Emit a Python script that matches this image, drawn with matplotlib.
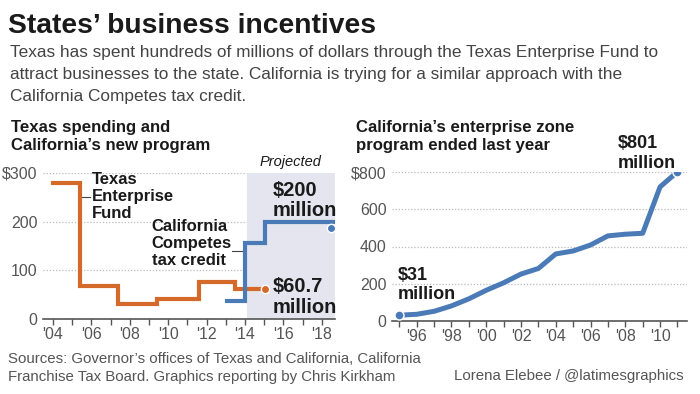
import numpy as np
import matplotlib.pyplot as plt

# Texas Enterprise Fund: step edges (year) and spending ($ millions)
tx_years = [2004, 2005.4, 2007.4, 2009.4, 2011.6, 2013.5, 2014.8]
tx_values = [280, 68, 31, 42, 76, 62, 62]
tx_last = (2015.05, 60.7)

# California Competes tax credit (projected)
cc_years = [2013.05, 2014.0, 2015.05, 2018.69]
cc_values = [38, 157, 200, 200]
cc_last = (2018.5, 188)

projected_start = 2014.1

# California enterprise zone program
ez_years = list(range(1995, 2012))
ez_values = [31, 36, 52, 81, 119, 165, 205, 252, 282, 360, 376, 408, 457, 466, 471, 720, 801]

left_yticks = [0, 100, 200, 300]
left_yticklabels = ['0', '100', '200', '$300']
left_xticks = list(range(2004, 2019, 2))
right_yticks = [0, 200, 400, 600, 800]
right_yticklabels = ['0', '200', '400', '600', '$800']
right_xticks = list(range(1996, 2011, 2))

ORANGE = '#d4692a'
BLUE = '#4b7bb7'
SHADE = '#e4e5ee'
DARK = '#1a1a1a'
GRAY = '#555555'

SANS = ['Liberation Sans', 'DejaVu Sans']
plt.rcParams['font.family'] = SANS

W, H = 700, 394
fig = plt.figure(figsize=(7, 3.94), dpi=100)


def fx(px):
    return px / W


def fy(px):
    return 1 - px / H


def style_axis(ax, xlim, ylim, yticks, yticklabels, xticks, minor):
    for s in ['top', 'right', 'left']:
        ax.spines[s].set_visible(False)
    ax.spines['bottom'].set_color(GRAY)
    ax.spines['bottom'].set_linewidth(1.2)
    ax.set_yticks(yticks)
    ax.set_yticklabels(yticklabels, fontsize=11.5, color=GRAY)
    ax.tick_params(axis='y', length=0, pad=4)
    ax.set_xticks(xticks)
    ax.set_xticklabels(["'%02d" % (x % 100) for x in xticks], fontsize=11.5, color=GRAY)
    ax.set_xticks(minor, minor=True)
    ax.tick_params(axis='x', which='both', length=4, width=1, color=GRAY, pad=2)
    for y in yticks[1:]:
        ax.axhline(y, color='#bbbbbb', lw=0.9, ls=(0, (1, 1.5)), zorder=0)
    ax.set_xlim(*xlim)
    ax.set_ylim(*ylim)


# ---- header ----
fig.text(fx(8), fy(33), 'States\u2019 business incentives', fontsize=20.3, fontweight='bold', color=DARK)
sub = ['Texas has spent hundreds of millions of dollars through the Texas Enterprise Fund to',
       'attract businesses to the state. California is trying for a similar approach with the',
       'California Competes tax credit.']
for i, line in enumerate(sub):
    fig.text(fx(10), fy(57 + 22 * i), line, fontsize=12.4, color='#444444')

fig.text(fx(11), fy(132), 'Texas spending and', fontsize=12.1, fontweight='bold', color=DARK)
fig.text(fx(11), fy(150), 'California\u2019s new program', fontsize=12.1, fontweight='bold', color=DARK)
fig.text(fx(356), fy(132), 'California\u2019s enterprise zone', fontsize=12.1, fontweight='bold', color=DARK)
fig.text(fx(356), fy(150), 'program ended last year', fontsize=12.1, fontweight='bold', color=DARK)

# ---- left chart ----
ax1 = fig.add_axes([fx(43), fy(319), fx(335 - 43), (319 - 173) / H])
style_axis(ax1, (2003.48, 2018.69), (0, 300), left_yticks, left_yticklabels,
           left_xticks, list(range(2004, 2019)))
ax1.axvspan(projected_start, 2018.69, ymin=0, ymax=1, color=SHADE, lw=0, zorder=0.5)
ax1.text((projected_start + 2018.69) / 2, 1.045, 'Projected', transform=ax1.get_xaxis_transform(),
         ha='center', va='baseline', fontsize=10.5, style='italic', color=DARK)

ax1.step(tx_years, tx_values, where='post', color=ORANGE, lw=3, solid_joinstyle='miter', zorder=3)
ax1.plot(*tx_last, 'o', color=ORANGE, ms=6, mec='white', mew=1, zorder=4)
ax1.step(cc_years, cc_values, where='post', color=BLUE, lw=3, solid_joinstyle='miter', zorder=3.5)
ax1.plot(*cc_last, 'o', color=BLUE, ms=6, mec='white', mew=1, zorder=4)

ax1.plot([2005.4, 2005.95], [250, 250], color='#444444', lw=0.8, zorder=2)
ax1.text(2006.0, 302, 'Texas\nEnterprise\nFund', ha='left', va='top', fontsize=12,
         fontweight='bold', color=DARK, linespacing=1.16)
ax1.plot([2013.3, 2014.0], [140, 140], color='#444444', lw=0.8, zorder=2)
ax1.text(2009.14, 205, 'California\nCompetes\ntax credit', ha='left', va='top', fontsize=12,
         fontweight='bold', color=DARK, linespacing=1.16)
ax1.text(2015.46, 284, '$200\nmillion', ha='left', va='top', fontsize=14.5,
         fontweight='bold', color=DARK, linespacing=1.1)
ax1.text(2015.46, 86, '$60.7\nmillion', ha='left', va='top', fontsize=14.5,
         fontweight='bold', color=DARK, linespacing=1.1)

# ---- right chart ----
ax2 = fig.add_axes([fx(392), fy(321), fx(687 - 392), (321 - 172) / H])
style_axis(ax2, (1994.58, 2011.55), (0, 800), right_yticks, right_yticklabels,
           right_xticks, list(range(1995, 2012)))
ax2.plot(ez_years, ez_values, color=BLUE, lw=3.6, solid_joinstyle='round', zorder=3)
ax2.plot([ez_years[0], ez_years[-1]], [ez_values[0], ez_values[-1]], 'o', color=BLUE,
         ms=6.5, mec='white', mew=1, zorder=4)
ax2.text(1994.9, 292, '$31\nmillion', ha='left', va='top', fontsize=13,
         fontweight='bold', color=DARK, linespacing=1.22)
ax2.text(2007.57, 998, '$801\nmillion', ha='left', va='top', fontsize=13,
         fontweight='bold', color=DARK, linespacing=1.22)

# ---- footer ----
fig.text(fx(8), fy(363), 'Sources: Governor\u2019s offices of Texas and California, California',
         fontsize=10.85, color=GRAY)
fig.text(fx(8), fy(381), 'Franchise Tax Board. Graphics reporting by Chris Kirkham',
         fontsize=10.85, color=GRAY)
fig.text(fx(684), fy(380), 'Lorena Elebee / @latimesgraphics', ha='right',
         fontsize=10.85, color=GRAY)

fig.savefig('out.png', dpi=100)
